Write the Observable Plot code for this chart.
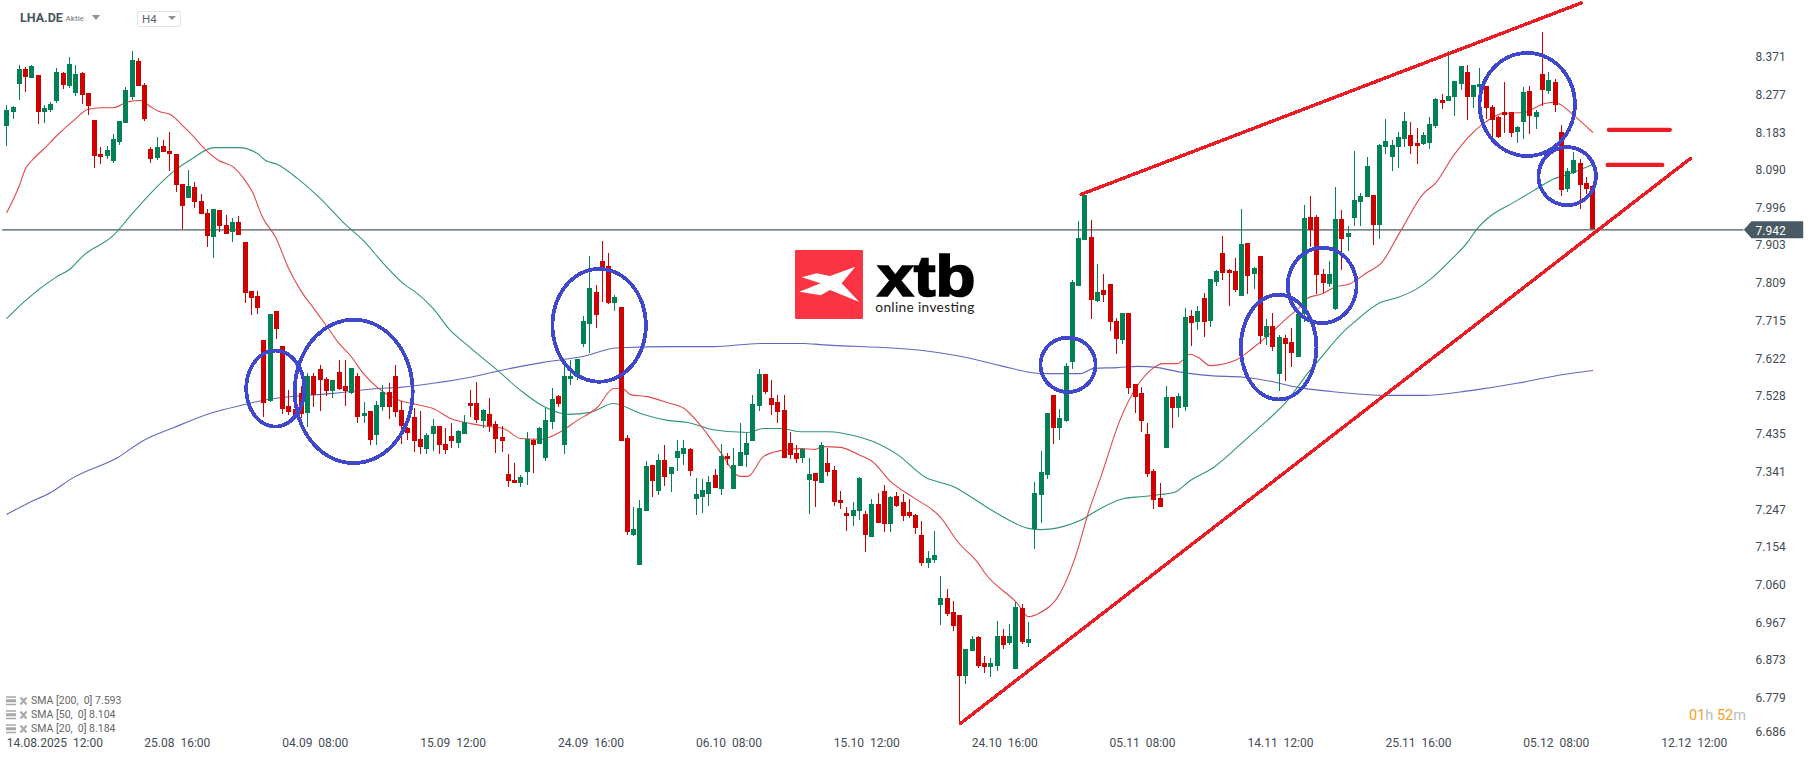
<!DOCTYPE html>
<html>
<head>
<meta charset="utf-8">
<script src="https://cdn.jsdelivr.net/npm/d3@7"></script>
<script src="https://cdn.jsdelivr.net/npm/@observablehq/plot@0.6"></script>
<style>
html,body{margin:0;padding:0;background:#fff;overflow:hidden}
#wrap{position:relative;width:1815px;height:761px;font-family:Roboto,sans-serif}
#wrap>svg{display:block}
.ov{position:absolute;white-space:pre;line-height:1}
.ov svg{display:block}
</style>
</head>
<body>
<div id="wrap"></div>
<script>
const opens=[
8.198,8.233,8.303,8.340,8.317,8.325,8.233,8.238,8.260,8.330,
8.298,8.280,8.330,8.280,8.213,8.129,8.124,8.111,8.159,8.206,
8.270,8.360,8.300,8.141,8.119,8.149,8.136,8.129,8.054,8.020,
8.047,8.012,7.982,7.923,7.990,7.953,7.935,7.960,7.910,7.789,
7.776,7.667,7.516,7.739,7.652,7.504,7.496,7.536,7.486,7.578,
7.595,7.570,7.541,7.588,7.553,7.536,7.578,7.479,7.491,7.432,
7.501,7.538,7.578,7.494,7.449,7.476,7.422,7.397,7.434,7.454,
7.409,7.429,7.412,7.434,7.511,7.511,7.466,7.484,7.459,7.427,
7.335,7.320,7.313,7.340,7.419,7.409,7.375,7.464,7.528,7.407,
7.571,7.576,7.657,7.707,7.786,7.863,7.851,7.759,7.749,7.424,
7.183,7.109,7.243,7.357,7.293,7.370,7.335,7.375,7.385,7.397,
7.273,7.278,7.285,7.332,7.298,7.380,7.298,7.355,7.382,7.417,
7.504,7.583,7.523,7.514,7.494,7.412,7.387,7.375,7.320,7.337,
7.313,7.362,7.345,7.270,7.238,7.231,7.243,7.236,7.178,7.260,
7.293,7.211,7.280,7.265,7.241,7.233,7.183,7.114,7.122,7.010,
7.027,6.992,6.985,6.834,6.896,6.930,6.866,6.856,6.858,6.933,
6.915,6.851,7.002,6.915,7.198,7.283,7.332,7.531,7.449,7.466,
7.613,7.801,7.915,7.923,7.764,7.791,7.806,7.714,7.667,7.734,
7.558,7.536,7.434,7.342,7.275,7.399,7.526,7.499,7.501,7.727,
7.712,7.772,7.715,7.811,7.883,7.841,7.839,7.776,7.908,7.831,
7.876,7.675,7.702,7.583,7.672,7.662,7.625,7.732,7.973,7.973,
7.831,7.806,7.744,7.968,7.923,7.970,8.010,8.022,8.027,7.953,
8.146,8.121,8.146,8.166,8.176,8.156,8.154,8.156,8.198,8.263,
8.260,8.270,8.303,8.332,8.270,8.295,8.298,8.245,8.221,8.233,
8.233,8.183,8.208,8.285,8.221,8.327,8.285,8.308,8.183,8.042,
8.082,8.107,8.057,8.050];
const closes=[
8.238,8.245,8.340,8.320,8.347,8.233,8.243,8.253,8.332,8.300,
8.352,8.327,8.275,8.248,8.124,8.121,8.139,8.166,8.211,8.288,
8.362,8.298,8.216,8.116,8.146,8.134,8.129,8.052,8.000,8.049,
8.010,7.980,7.925,7.992,7.950,7.930,7.960,7.928,7.784,7.772,
7.747,7.511,7.732,7.695,7.496,7.489,7.474,7.484,7.578,7.531,
7.568,7.541,7.568,7.546,7.541,7.598,7.476,7.486,7.419,7.506,
7.538,7.501,7.489,7.454,7.437,7.417,7.402,7.432,7.454,7.407,
7.394,7.417,7.442,7.464,7.504,7.469,7.494,7.454,7.422,7.417,
7.317,7.313,7.327,7.422,7.407,7.449,7.469,7.521,7.509,7.578,
7.578,7.620,7.715,7.796,7.729,7.849,7.759,7.774,7.417,7.191,
7.198,7.250,7.355,7.317,7.370,7.327,7.352,7.392,7.399,7.342,
7.285,7.295,7.315,7.300,7.380,7.372,7.357,7.389,7.412,7.509,
7.583,7.538,7.506,7.489,7.375,7.382,7.372,7.397,7.335,7.317,
7.407,7.340,7.265,7.263,7.231,7.245,7.325,7.183,7.260,7.213,
7.211,7.278,7.255,7.231,7.231,7.201,7.114,7.126,7.134,7.027,
6.987,6.958,6.834,6.901,6.925,6.858,6.856,6.866,6.933,6.910,
6.933,7.005,6.918,6.925,7.288,7.340,7.486,7.449,7.474,7.603,
7.811,7.920,8.027,7.767,7.786,7.779,7.712,7.670,7.734,7.548,
7.526,7.466,7.335,7.270,7.253,7.526,7.499,7.528,7.724,7.710,
7.739,7.712,7.819,7.839,7.834,7.834,7.791,7.906,7.826,7.846,
7.677,7.702,7.650,7.675,7.657,7.635,7.732,7.970,7.941,7.829,
7.809,7.831,7.968,7.918,7.933,8.015,8.025,8.099,7.953,8.151,
8.161,8.151,8.171,8.211,8.149,8.149,8.176,8.203,8.265,8.255,
8.273,8.310,8.347,8.270,8.300,8.303,8.243,8.213,8.171,8.226,
8.181,8.196,8.283,8.223,8.233,8.288,8.313,8.250,8.040,8.087,
8.114,8.052,8.042,7.942];
const highs=[
8.250,8.248,8.350,8.345,8.350,8.325,8.250,8.258,8.342,8.332,
8.370,8.350,8.332,8.280,8.213,8.146,8.149,8.178,8.211,8.295,
8.384,8.367,8.305,8.146,8.171,8.164,8.183,8.129,8.054,8.089,
8.059,8.030,7.992,7.992,7.990,7.977,7.970,7.975,7.910,7.789,
7.789,7.667,7.732,7.739,7.652,7.543,7.518,7.553,7.585,7.585,
7.605,7.575,7.568,7.618,7.618,7.598,7.585,7.513,7.491,7.516,
7.556,7.561,7.605,7.516,7.451,7.499,7.491,7.437,7.471,7.454,
7.449,7.461,7.444,7.481,7.543,7.563,7.496,7.523,7.466,7.454,
7.385,7.362,7.332,7.439,7.422,7.452,7.499,7.548,7.531,7.603,
7.618,7.620,7.727,7.876,7.804,7.913,7.883,7.779,7.749,7.432,
7.253,7.270,7.367,7.357,7.385,7.407,7.352,7.419,7.419,7.399,
7.325,7.322,7.330,7.347,7.409,7.387,7.399,7.461,7.437,7.531,
7.595,7.583,7.568,7.531,7.531,7.439,7.407,7.399,7.375,7.337,
7.414,7.399,7.355,7.293,7.253,7.265,7.327,7.243,7.273,7.288,
7.307,7.280,7.290,7.285,7.273,7.236,7.218,7.144,7.193,7.082,
7.050,7.020,6.985,6.901,6.933,6.933,6.883,6.878,6.970,6.950,
6.963,7.017,7.012,6.968,7.315,7.392,7.486,7.531,7.496,7.610,
7.816,7.963,8.027,7.965,7.856,7.831,7.806,7.722,7.734,7.734,
7.558,7.551,7.461,7.347,7.313,7.553,7.526,7.536,7.747,7.742,
7.752,7.784,7.819,7.841,7.925,7.844,7.871,7.992,7.908,7.848,
7.876,7.720,7.734,7.680,7.680,7.697,7.732,8.002,8.025,7.978,
7.844,7.863,8.047,7.990,7.950,8.136,8.032,8.121,8.027,8.154,
8.216,8.164,8.184,8.233,8.208,8.193,8.184,8.221,8.268,8.278,
8.385,8.310,8.347,8.350,8.300,8.342,8.298,8.250,8.223,8.308,
8.233,8.198,8.295,8.298,8.238,8.432,8.332,8.315,8.201,8.094,
8.134,8.117,8.072,8.050];
const lows=[
8.149,8.216,8.263,8.283,8.317,8.203,8.206,8.233,8.255,8.290,
8.293,8.273,8.253,8.226,8.094,8.104,8.116,8.106,8.151,8.206,
8.263,8.298,8.211,8.106,8.114,8.134,8.087,8.035,7.942,8.020,
7.995,7.980,7.898,7.871,7.935,7.930,7.910,7.928,7.759,7.729,
7.732,7.476,7.513,7.670,7.484,7.481,7.471,7.474,7.451,7.501,
7.491,7.528,7.523,7.543,7.504,7.533,7.461,7.461,7.407,7.407,
7.491,7.471,7.476,7.409,7.419,7.389,7.384,7.385,7.392,7.385,
7.385,7.399,7.399,7.434,7.476,7.461,7.449,7.439,7.387,7.389,
7.303,7.313,7.303,7.308,7.337,7.409,7.367,7.447,7.501,7.385,
7.556,7.568,7.650,7.635,7.697,7.762,7.757,7.739,7.417,7.183,
7.181,7.109,7.243,7.278,7.283,7.305,7.290,7.342,7.357,7.330,
7.233,7.238,7.255,7.300,7.283,7.357,7.298,7.355,7.352,7.417,
7.491,7.533,7.481,7.461,7.375,7.372,7.362,7.362,7.236,7.253,
7.313,7.330,7.255,7.248,7.193,7.206,7.221,7.141,7.178,7.213,
7.191,7.191,7.253,7.218,7.226,7.186,7.107,7.102,7.114,6.960,
6.983,6.945,6.717,6.814,6.896,6.853,6.841,6.831,6.846,6.901,
6.910,6.851,6.913,6.905,7.149,7.213,7.322,7.409,7.419,7.464,
7.595,7.801,7.915,7.720,7.762,7.762,7.690,7.633,7.657,7.533,
7.486,7.439,7.327,7.248,7.253,7.399,7.449,7.476,7.491,7.653,
7.692,7.675,7.700,7.801,7.816,7.752,7.786,7.776,7.781,7.794,
7.657,7.655,7.640,7.541,7.566,7.600,7.625,7.712,7.898,7.782,
7.784,7.799,7.742,7.841,7.888,7.950,7.950,8.022,7.903,7.918,
8.129,8.087,8.094,8.146,8.129,8.104,8.151,8.141,8.193,8.241,
8.260,8.223,8.288,8.213,8.243,8.263,8.216,8.171,8.169,8.181,
8.171,8.156,8.166,8.179,8.191,8.248,8.278,8.233,8.025,8.035,
8.079,7.992,8.030,7.942];

// SMA readings: [candle index, price]
const sma20=[[0,7.985],[2,8.052],[3,8.094],[4,8.114],[6,8.144],[8,8.176],[10.5,8.211],[13,8.241],[15,8.245],[17,8.245],[19.4,8.260],[21.3,8.263],[22.9,8.248],[24.2,8.236],[26.1,8.228],[28,8.201],[29.3,8.181],[32,8.136],[33.8,8.114],[36.2,8.097],[37.8,8.069],[39.2,8.035],[40.8,7.973],[42.9,7.923],[44.9,7.848],[46.9,7.791],[49.2,7.742],[51.3,7.697],[52.9,7.662],[54.8,7.630],[56.9,7.585],[59.1,7.551],[62.8,7.518],[65.2,7.509],[67.9,7.499],[70.8,7.474],[74,7.461],[76.8,7.454],[79.2,7.449],[82,7.424],[85.1,7.422],[87.9,7.437],[91,7.469],[94.2,7.501],[96.8,7.548],[98.2,7.548],[99.5,7.533],[102.2,7.528],[105.4,7.513],[108,7.499],[110.7,7.456],[113.9,7.389],[117,7.330],[118.2,7.330],[120.7,7.379],[123.4,7.394],[126.6,7.399],[129,7.397],[130.1,7.404],[133,7.402],[135.9,7.384],[138.1,7.367],[141,7.317],[144.6,7.278],[149,7.228],[151.8,7.166],[154.9,7.116],[156.1,7.089],[161.2,7.015],[163,6.982],[164.6,6.990],[168.1,7.042],[170.8,7.146],[172.4,7.233],[174.5,7.327],[177.7,7.474],[183,7.600],[184.4,7.610],[186.8,7.610],[188.8,7.633],[190.1,7.625],[192,7.605],[196,7.618],[198.9,7.650],[201.6,7.685],[204.3,7.724],[206.4,7.752],[207.5,7.772],[210,7.784],[211.7,7.799],[214.4,7.809],[217,7.836],[219.2,7.858],[222.4,7.940],[226,8.032],[227.9,8.057],[230.8,8.126],[233,8.169],[235.6,8.206],[238.8,8.231],[242,8.233],[245.2,8.255],[246.6,8.258],[247.6,8.255],[250,8.226],[253,8.184]];
const sma50=[[0,7.722],[3,7.767],[7.8,7.824],[10.2,7.846],[12.2,7.878],[17,7.928],[20,7.982],[22.9,8.032],[26.6,8.087],[29.8,8.121],[33,8.146],[37,8.146],[40,8.131],[41.3,8.114],[43.2,8.104],[46.4,8.069],[50,8.020],[53.7,7.960],[56.9,7.915],[60.1,7.858],[63.6,7.804],[64.9,7.791],[68,7.747],[70.5,7.697],[73.5,7.655],[78.3,7.593],[82,7.543],[85.6,7.504],[89.5,7.484],[93.1,7.489],[96.8,7.511],[101.1,7.486],[105.4,7.469],[108.6,7.464],[112.7,7.446],[118.2,7.439],[120.7,7.449],[123.4,7.449],[126.6,7.441],[131.1,7.441],[135.7,7.429],[138.1,7.417],[142.1,7.384],[146.9,7.325],[148.5,7.317],[151,7.305],[154.2,7.275],[158,7.238],[163,7.201],[164.9,7.198],[168.6,7.206],[171.3,7.221],[174,7.246],[178.2,7.275],[181.3,7.280],[184,7.285],[186.2,7.290],[188.8,7.320],[192.5,7.352],[195.7,7.394],[198.4,7.432],[201.1,7.469],[204.3,7.518],[207.5,7.585],[209.3,7.618],[213.1,7.687],[214.9,7.712],[219.2,7.762],[221.9,7.774],[225,7.796],[227.1,7.819],[230.3,7.866],[233,7.910],[234.6,7.945],[236.2,7.970],[240.4,8.010],[244.2,8.045],[246.6,8.067],[249,8.079],[253,8.104]];
const sma200=[[0,7.236],[3.3,7.263],[7,7.290],[10.6,7.327],[17.7,7.377],[21.8,7.419],[26.6,7.451],[33,7.489],[37.3,7.506],[41.6,7.521],[44.1,7.526],[52.1,7.536],[59.1,7.548],[62.8,7.551],[68,7.561],[74,7.576],[78.8,7.593],[85.6,7.613],[92,7.628],[96.8,7.648],[99,7.650],[105.4,7.652],[112.7,7.652],[120.2,7.660],[127.1,7.660],[129.8,7.657],[145.8,7.643],[152.1,7.628],[158.5,7.605],[163.3,7.588],[166,7.585],[171.3,7.585],[173.4,7.598],[177.2,7.600],[180.4,7.603],[183.6,7.600],[186.8,7.590],[192,7.580],[197.3,7.576],[201.6,7.566],[205.9,7.551],[211.2,7.541],[220.6,7.531],[226.2,7.531],[233.5,7.543],[240.9,7.561],[248.3,7.583],[253,7.593]];

// Hand-drawn annotations
const trendLower=[[152.15,6.717],[268.6,8.119]];
const trendUpper=[[171.4,8.030],[251.2,8.505]];
const dashHigh=[[255.6,8.190],[265.3,8.190]];
const dashLow=[[255.4,8.103],[264.1,8.103]];
const ringIndex=[42.83,55.34,94.5,169.3,202.9,209.85,242.56,248.94];
const ringPrice=[7.548,7.541,7.705,7.607,7.651,7.804,8.253,8.075];
const ringSpanX=[4.63,9.41,7.45,4.39,6.03,5.49,7.61,4.58];
const ringSpanY=[0.0943,0.178,0.140,0.0675,0.130,0.0935,0.128,0.072];

const lastPrice=7.942;
const lastLine=[[-0.69,lastPrice],[277,lastPrice]];
const yTicks=[8.371,8.277,8.183,8.090,7.996,7.903,7.809,7.715,7.622,7.528,7.435,7.341,7.247,7.154,7.060,6.967,6.873,6.779];
const yBottomTick=[6.686];
const xTicks=[27.2,49.2,71.2,93.2,115.2,137.2,159.2,181.2,203.2,225.2,247.2,269.2];
const xLabels=["25.08  16:00","04.09  08:00","15.09  12:00","24.09  16:00","06.10  08:00","15.10  12:00","24.10  16:00","05.11  08:00","14.11  12:00","25.11  16:00","05.12  08:00","12.12  12:00"];
const xFirstTick=[0];
const xFirstLabel="14.08.2025  12:00";
const legendRows=[["SMA [200,  0] 7.593",701.7],["SMA [50,  0] 8.104",715.6],["SMA [20,  0] 8.184",729.6]];

const RED="#cf0000",GREEN="#028155",TEXT="#434c55",FONT="Roboto";
const candles=opens.map((o,i)=>({i,o,c:closes[i],h:highs[i],l:lows[i]}));
const ups=candles.filter(d=>d.c>=d.o), downs=candles.filter(d=>d.c<d.o);
const ringPoints=ringIndex.flatMap((cx,k)=>d3.range(0,73).map(a=>({
  k,x:cx+ringSpanX[k]*Math.cos(a*Math.PI/36),y:ringPrice[k]+ringSpanY[k]*Math.sin(a*Math.PI/36)})));
const line=(arr,o)=>Plot.line(arr,{x:d=>d[0],y:d=>d[1],...o});
const tagShape={draw(c){c.moveTo(-11.7,0);c.lineTo(-4,-8.5);c.lineTo(47.7,-8.5);c.lineTo(47.7,8.5);c.lineTo(-4,8.5);c.closePath();}};

const chart=Plot.plot({
  width:1815,height:761,
  marginLeft:0,marginRight:60,marginTop:0,marginBottom:30,
  style:{fontFamily:FONT,fontSize:"12px",background:"#fff",overflow:"visible"},
  x:{type:"linear",domain:[-1.01,278.98],axis:null},
  y:{type:"linear",domain:[6.697,8.511],axis:null},
  marks:[
    line(lastLine,{stroke:"#4b5a63",strokeWidth:1.2}),
    line(sma200,{stroke:"#6068c2",strokeWidth:1.1,curve:"monotone-x"}),
    line(sma50,{stroke:"#2e9670",strokeWidth:1.1,curve:"monotone-x"}),
    line(sma20,{stroke:"#e2474a",strokeWidth:1.1,curve:"monotone-x"}),
    Plot.ruleX(ups,{x:"i",y1:"l",y2:"h",stroke:GREEN,strokeWidth:1,shapeRendering:"crispEdges"}),
    Plot.ruleX(downs,{x:"i",y1:"l",y2:"h",stroke:RED,strokeWidth:1,shapeRendering:"crispEdges"}),
    Plot.ruleX(ups,{x:"i",y1:"o",y2:"c",stroke:GREEN,strokeWidth:5,shapeRendering:"crispEdges"}),
    Plot.ruleX(downs,{x:"i",y1:"o",y2:"c",stroke:RED,strokeWidth:5,shapeRendering:"crispEdges"}),
    Plot.line(ringPoints,{x:"x",y:"y",z:"k",stroke:"#3f48cc",strokeWidth:3.8,shapeRendering:"crispEdges"}),
    line(trendLower,{stroke:"#ed1c24",strokeWidth:3.4,strokeLinecap:"round",shapeRendering:"crispEdges"}),
    line(trendUpper,{stroke:"#ed1c24",strokeWidth:3.4,strokeLinecap:"round",shapeRendering:"crispEdges"}),
    line(dashHigh,{stroke:"#ed1c24",strokeWidth:4.4,strokeLinecap:"round"}),
    line(dashLow,{stroke:"#ed1c24",strokeWidth:4.4,strokeLinecap:"round"}),
    Plot.axisY(yTicks,{anchor:"right",tickSize:0,tickPadding:0,tickFormat:".3f",fill:TEXT,fontSize:12,label:null}),
    Plot.axisY(yBottomTick,{anchor:"right",tickSize:0,tickPadding:0,tickFormat:".3f",fill:TEXT,fontSize:12,dy:-4,label:null}),
    Plot.dot([lastPrice],{y:d=>d,frameAnchor:"right",symbol:tagShape,r:5,fill:"#4a5a64"}),
    Plot.axisY([lastPrice],{anchor:"right",tickSize:0,tickPadding:0,tickFormat:".3f",fill:"#fff",fontSize:12,dy:1,label:null}),
    Plot.axisX(xTicks,{anchor:"bottom",tickSize:0,tickPadding:7,tickFormat:d=>xLabels[xTicks.indexOf(d)],fill:TEXT,fontSize:12,label:null}),
    Plot.axisX(xFirstTick,{anchor:"bottom",tickSize:0,tickPadding:7,tickFormat:()=>xFirstLabel,textAnchor:"start",fill:TEXT,fontSize:12,label:null})
  ]
});
const wrap=document.getElementById("wrap");
wrap.appendChild(chart);

function ov(text,css){const d=document.createElement("div");d.className="ov";d.textContent=text;d.style.cssText=css;wrap.appendChild(d);return d;}
// header
ov("LHA.DE","left:20px;top:12px;font-size:12.5px;font-weight:700;color:#47535e");
ov("Aktie","left:65.5px;top:15px;font-size:8px;font-weight:500;color:#8a8f94");
function shape(html,css){const d=document.createElement("div");d.className="ov";d.style.cssText=css;d.innerHTML=html;wrap.appendChild(d);return d;}
shape('<svg width="8" height="5"><path d="M0 0H8L4 5Z" fill="#8f9397"/></svg>',"left:92px;top:15px");
shape('',"left:136.5px;top:10.5px;width:42px;height:14px;border:1px solid #e3e3e3;border-radius:2px");
ov("H4","left:142px;top:14px;font-size:11.5px;color:#5c6368");
shape('<svg width="8" height="4"><path d="M0 0H8L4 4Z" fill="#8f9397"/></svg>',"left:168px;top:16px");
// logo
shape(`<svg width="220" height="90">
<g transform="scale(0.3333)"><rect x="45" y="30" width="204" height="207" rx="4" fill="#fa3442"/>
<path d="M65 112L110 100L150 108L226 80L185 130L238 186L150 150L122 166L58 155L122 130Z" fill="#fff"/></g>
<text x="97.3" y="56" font-family="'Liberation Sans',sans-serif" font-weight="700" font-size="57.3" textLength="98" lengthAdjust="spacingAndGlyphs" stroke="#000" stroke-width="1.7" fill="#000">xtb</text>
<text x="95.3" y="72" font-family="Lato,sans-serif" font-size="13.7" textLength="99" lengthAdjust="spacing" fill="#222">online investing</text>
</svg>`,"left:780px;top:240px");
// legend
legendRows.forEach(([t,y])=>{
  shape(`<svg width="22" height="10"><path d="M0 1H10M0 4H10M0 5.5H10M0 8.5H10" stroke="#a8a8a8" stroke-width="1.6"/><path d="M14.5 1.5L20.5 8.5M20.5 1.5L14.5 8.5" stroke="#a8a8a8" stroke-width="2"/></svg>`,`left:6px;top:${y-5.5}px`);
  ov(t,`left:31px;top:${y-5.5}px;font-size:10.5px;color:#666`);
});
// countdown
const cd=ov("","left:1689px;top:709px;font-size:14.5px;color:#b9bdc1");
cd.innerHTML='<span style="color:#f7a01f">01</span>h <span style="color:#f7a01f">52</span>m';
</script>
</body>
</html>
